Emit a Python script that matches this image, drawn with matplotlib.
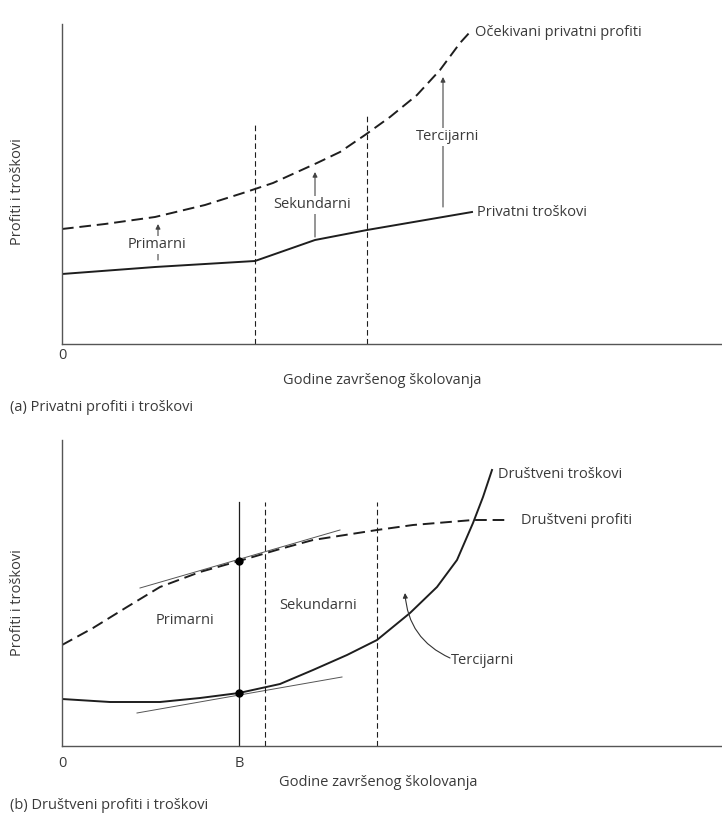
import numpy as np
import matplotlib
matplotlib.use('Agg')
import matplotlib.pyplot as plt

plt.rcParams['font.family'] = ['Open Sans', 'DejaVu Sans']

# (a) private returns and costs
exp_x = [0, 4.3, 9.3, 14.3, 18.1, 21.1, 25.5, 27.8, 30.3, 32.8, 35.5, 37.8, 39.8, 40.8]
exp_y = [11.5, 12.0, 12.7, 13.9, 15.1, 16.1, 18.1, 19.2, 20.9, 22.7, 24.9, 27.4, 30.1, 31.2]
pcost_x = [0, 9.3, 19.3, 25.3, 30.5, 41.0]
pcost_y = [7.0, 7.7, 8.3, 10.4, 11.4, 13.2]
a_bounds = [19.3, 30.5]
a_bound_top = [22.2, 22.9]
a_arrow_x = [9.6, 25.3, 38.1]
a_arrow_lo = [8.4, 10.7, 13.7]
a_arrow_hi = [12.0, 17.2, 26.7]
a_labels = ['Primarni', 'Sekundarni', 'Tercijarni']
a_label_xy = [(9.5, 9.9), (25.0, 13.9), (38.6, 20.7)]

# (b) social returns and costs
sprof_x = [0, 3.1, 6.5, 9.8, 13.8, 17.7, 21.8, 25.1, 31.5, 35.1, 41.1, 44.8]
sprof_y = [10.1, 11.8, 13.9, 15.9, 17.4, 18.5, 19.7, 20.6, 21.6, 22.1, 22.6, 22.6]
scost_x = [0, 4.8, 9.8, 13.8, 17.7, 21.8, 25.1, 28.5, 31.5, 34.8, 37.5, 39.5, 41.1, 42.1, 43.0]
scost_y = [4.7, 4.4, 4.4, 4.8, 5.3, 6.2, 7.6, 9.1, 10.6, 13.3, 15.9, 18.6, 22.3, 24.9, 27.6]
B = 17.7
b_bounds = [20.3, 31.5]
b_bound_top = 24.4
tan_prof = ([7.8, 27.8], [15.8, 21.6])
tan_cost = ([7.5, 28.0], [3.3, 6.9])
b_labels = ['Primarni', 'Sekundarni']
b_label_xy = [(12.3, 12.6), (25.6, 14.1)]

W, H = 722, 813
fig = plt.figure(figsize=(W / 100, H / 100), dpi=100)
lc = '#1e1e1e'
tc = '#3a3a3a'
fs = 10.5


def px_axes(left, top, right, bottom):
    return fig.add_axes([left / W, 1 - bottom / H, (right - left) / W, (bottom - top) / H])


def style(ax, xmax, ymax):
    ax.set_xlim(0, xmax)
    ax.set_ylim(0, ymax)
    for s in ['top', 'right']:
        ax.spines[s].set_visible(False)
    for s in ['left', 'bottom']:
        ax.spines[s].set_color('#555555')
        ax.spines[s].set_linewidth(1.0)
    ax.set_yticks([])
    ax.tick_params(axis='x', length=0, labelsize=fs, labelcolor=tc)
    ax.patch.set_alpha(0)


# ---- panel (a)
ax1 = px_axes(62, 24, 722, 344)
style(ax1, 66, 32)
ax1.plot(exp_x, exp_y, color=lc, lw=1.4, ls=(0, (6, 3)))
ax1.plot(pcost_x, pcost_y, color=lc, lw=1.4)
for xb, yt in zip(a_bounds, a_bound_top):
    ax1.plot([xb, xb], [0, yt], color=lc, lw=0.8, ls=(0, (5, 3)))
for xa, lo, hi in zip(a_arrow_x, a_arrow_lo, a_arrow_hi):
    ax1.annotate('', xy=(xa, hi), xytext=(xa, lo),
                 arrowprops=dict(arrowstyle='-|>', color='#444444', lw=0.8,
                                 mutation_scale=7, shrinkA=0, shrinkB=0))
for lab, (lx, ly) in zip(a_labels, a_label_xy):
    ax1.text(lx, ly, lab, ha='center', va='center', fontsize=fs, color=tc,
             bbox=dict(facecolor='white', edgecolor='none', pad=1.0))
ax1.text(41.3, 31.1, 'Očekivani privatni profiti', ha='left', va='center', fontsize=fs, color=tc)
ax1.text(41.5, 13.2, 'Privatni troškovi', ha='left', va='center', fontsize=fs, color=tc)
ax1.set_xticks([0])
ax1.set_xticklabels(['0'])
ax1.tick_params(axis='x', pad=3)
fig.text(382 / W, 1 - 380 / H, 'Godine završenog školovanja', ha='center', va='center', fontsize=fs, color=tc)
fig.text(10 / W, 1 - 407 / H, '(a) Privatni profiti i troškovi', ha='left', va='center', fontsize=fs, color=tc)
fig.text(18 / W, 1 - 192 / H, 'Profiti i troškovi', rotation=90, ha='center', va='center', fontsize=fs, color=tc)

# ---- panel (b)
ax2 = px_axes(62, 440, 722, 746)
style(ax2, 66, 30.6)
ax2.plot(tan_prof[0], tan_prof[1], color='#555555', lw=0.7)
ax2.plot(tan_cost[0], tan_cost[1], color='#555555', lw=0.7)
ax2.plot(sprof_x, sprof_y, color=lc, lw=1.4, ls=(0, (6, 3)))
ax2.plot(scost_x, scost_y, color=lc, lw=1.4)
ax2.plot([B, B], [0, b_bound_top], color=lc, lw=0.9)
for xb in b_bounds:
    ax2.plot([xb, xb], [0, b_bound_top], color=lc, lw=0.8, ls=(0, (5, 3)))
ax2.plot([B, B], [np.interp(B, sprof_x, sprof_y), np.interp(B, scost_x, scost_y)],
         'o', color='black', ms=5)
for lab, (lx, ly) in zip(b_labels, b_label_xy):
    ax2.text(lx, ly, lab, ha='center', va='center', fontsize=fs, color=tc)
ax2.annotate('', xy=(34.3, 15.3), xytext=(38.8, 8.8),
             arrowprops=dict(arrowstyle='-|>', color='#333333', lw=0.8, mutation_scale=7,
                             connectionstyle='arc3,rad=-0.3', shrinkA=0, shrinkB=0))
ax2.text(38.9, 8.6, 'Tercijarni', ha='left', va='center', fontsize=fs, color=tc)
ax2.text(43.6, 27.2, 'Društveni troškovi', ha='left', va='center', fontsize=fs, color=tc)
ax2.text(45.9, 22.6, 'Društveni profiti', ha='left', va='center', fontsize=fs, color=tc)
ax2.set_xticks([0, B])
ax2.set_xticklabels(['0', 'B'])
ax2.tick_params(axis='x', pad=7)
fig.text(378 / W, 1 - 782 / H, 'Godine završenog školovanja', ha='center', va='center', fontsize=fs, color=tc)
fig.text(10 / W, 1 - 805 / H, '(b) Društveni profiti i troškovi', ha='left', va='center', fontsize=fs, color=tc)
fig.text(18 / W, 1 - 603 / H, 'Profiti i troškovi', rotation=90, ha='center', va='center', fontsize=fs, color=tc)

fig.savefig('out.png', dpi=100, facecolor='white')
